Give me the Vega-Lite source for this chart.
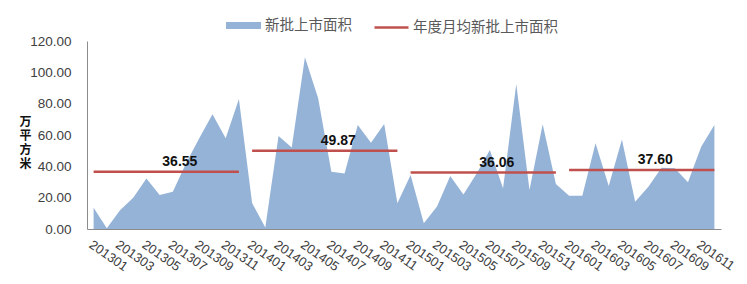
{
  "$schema": "https://vega.github.io/schema/vega-lite/v6.json",
  "width": 634,
  "height": 188,
  "autosize": {"type": "none"},
  "padding": {"left": 87, "top": 41, "right": 26, "bottom": 55},
  "background": "white",
  "config": {
    "view": {"stroke": null},
    "font": "Liberation Sans",
    "axis": {"domainColor": "#8c8c8c", "grid": false, "ticks": false, "labelColor": "#404040", "labelFont": "Liberation Sans", "labelOverlap": false},
    "axisY": {"labelOverlap": false, "tickCount": 7},
    "legend": {"padding": 0, "labelFont": "Noto Sans CJK SC", "labelFontSize": 14.5, "labelColor": "#595959"}
  },
  "datasets": {
    "monthly": [
      {"month": "201301", "value": 13.5}, {"month": "201302", "value": 0.5}, {"month": "201303", "value": 12}, {"month": "201304", "value": 20},
      {"month": "201305", "value": 32.3}, {"month": "201306", "value": 21.7}, {"month": "201307", "value": 23.8}, {"month": "201308", "value": 42},
      {"month": "201309", "value": 58}, {"month": "201310", "value": 73.2}, {"month": "201311", "value": 57.9}, {"month": "201312", "value": 83},
      {"month": "201401", "value": 16.6}, {"month": "201402", "value": 1}, {"month": "201403", "value": 59.3}, {"month": "201404", "value": 52.1},
      {"month": "201405", "value": 109.6}, {"month": "201406", "value": 83.4}, {"month": "201407", "value": 36.6}, {"month": "201408", "value": 35.5},
      {"month": "201409", "value": 66.4}, {"month": "201410", "value": 55.1}, {"month": "201411", "value": 67}, {"month": "201412", "value": 16.4},
      {"month": "201501", "value": 34.5}, {"month": "201502", "value": 3.6}, {"month": "201503", "value": 14.3}, {"month": "201504", "value": 33.8},
      {"month": "201505", "value": 22.1}, {"month": "201506", "value": 35.5}, {"month": "201507", "value": 50.4}, {"month": "201508", "value": 26},
      {"month": "201509", "value": 92.5}, {"month": "201510", "value": 24.9}, {"month": "201511", "value": 66.8}, {"month": "201512", "value": 28.7},
      {"month": "201601", "value": 21.3}, {"month": "201602", "value": 21.3}, {"month": "201603", "value": 54.7}, {"month": "201604", "value": 27.4},
      {"month": "201605", "value": 57.2}, {"month": "201606", "value": 17.4}, {"month": "201607", "value": 27}, {"month": "201608", "value": 39.1},
      {"month": "201609", "value": 38.7}, {"month": "201610", "value": 29.8}, {"month": "201611", "value": 52.5}, {"month": "201612", "value": 66.4}
    ],
    "yearly": [
      {"year": "2013", "start": "201301", "end": "201312", "labelMonth": "201307", "avg": 36.55},
      {"year": "2014", "start": "201401", "end": "201412", "labelMonth": "201407", "avg": 49.87},
      {"year": "2015", "start": "201501", "end": "201512", "labelMonth": "201507", "avg": 36.06},
      {"year": "2016", "start": "201601", "end": "201612", "labelMonth": "201607", "avg": 37.60}
    ]
  },
  "layer": [
    {
      "data": {"name": "monthly"},
      "mark": {"type": "area", "opacity": 1},
      "encoding": {
        "x": {
          "field": "month", "type": "ordinal",
          "scale": {"type": "point", "padding": 0.5},
          "axis": {
            "title": null,
            "values": ["201301","201303","201305","201307","201309","201311","201401","201403","201405","201407","201409","201411","201501","201503","201505","201507","201509","201511","201601","201603","201605","201607","201609","201611"],
            "labelAngle": 35, "labelAlign": "left", "labelBaseline": "top", "labelOverlap": false,
            "labelPadding": 9, "labelFontSize": 13, "labelDx": -3
          }
        },
        "y": {
          "field": "value", "type": "quantitative",
          "scale": {"domain": [0, 120]},
          "axis": {
            "values": [0, 20, 40, 60, 80, 100, 120], "format": ".2f", "labelOverlap": false,
            "labelFontSize": 13.5, "labelPadding": 16,
            "title": ["万", "平", "方", "米"], "titleAngle": 0, "titleFont": "Noto Sans CJK SC",
            "titleFontSize": 12, "titleFontWeight": "bold", "titleColor": "#111",
            "titleLineHeight": 14, "titleAlign": "center", "titleBaseline": "top",
            "titleX": -62, "titleY": 75
          }
        },
        "fill": {
          "datum": "新批上市面积",
          "scale": {"domain": ["新批上市面积"], "range": ["#95B3D7"]},
          "legend": {
            "title": null, "orient": "none", "legendX": 139, "legendY": -33,
            "symbolType": "M-1,-0.2H1V0.2H-1Z", "symbolSize": 1225, "labelOffset": 4,
            "symbolStrokeWidth": 0, "symbolOpacity": 1
          }
        }
      }
    },
    {
      "data": {"name": "yearly"},
      "mark": {"type": "rule", "strokeWidth": 2.5},
      "encoding": {
        "x": {"field": "start", "type": "ordinal"},
        "x2": {"field": "end"},
        "y": {"field": "avg", "type": "quantitative"},
        "stroke": {
          "datum": "年度月均新批上市面积",
          "scale": {"domain": ["年度月均新批上市面积"], "range": ["#C0504D"]},
          "legend": {
            "title": null, "orient": "none", "legendX": 286, "legendY": -32,
            "symbolType": "stroke", "symbolSize": 1156, "symbolStrokeWidth": 2.5, "labelOffset": 3
          }
        }
      }
    },
    {
      "data": {"name": "yearly"},
      "mark": {"type": "text", "fontWeight": "bold", "fontSize": 14, "baseline": "bottom", "dy": -3, "dx": 7, "color": "#111"},
      "encoding": {
        "x": {"field": "labelMonth", "type": "ordinal"},
        "y": {"field": "avg", "type": "quantitative"},
        "text": {"field": "avg", "type": "quantitative", "format": ".2f"}
      }
    }
  ]
}
